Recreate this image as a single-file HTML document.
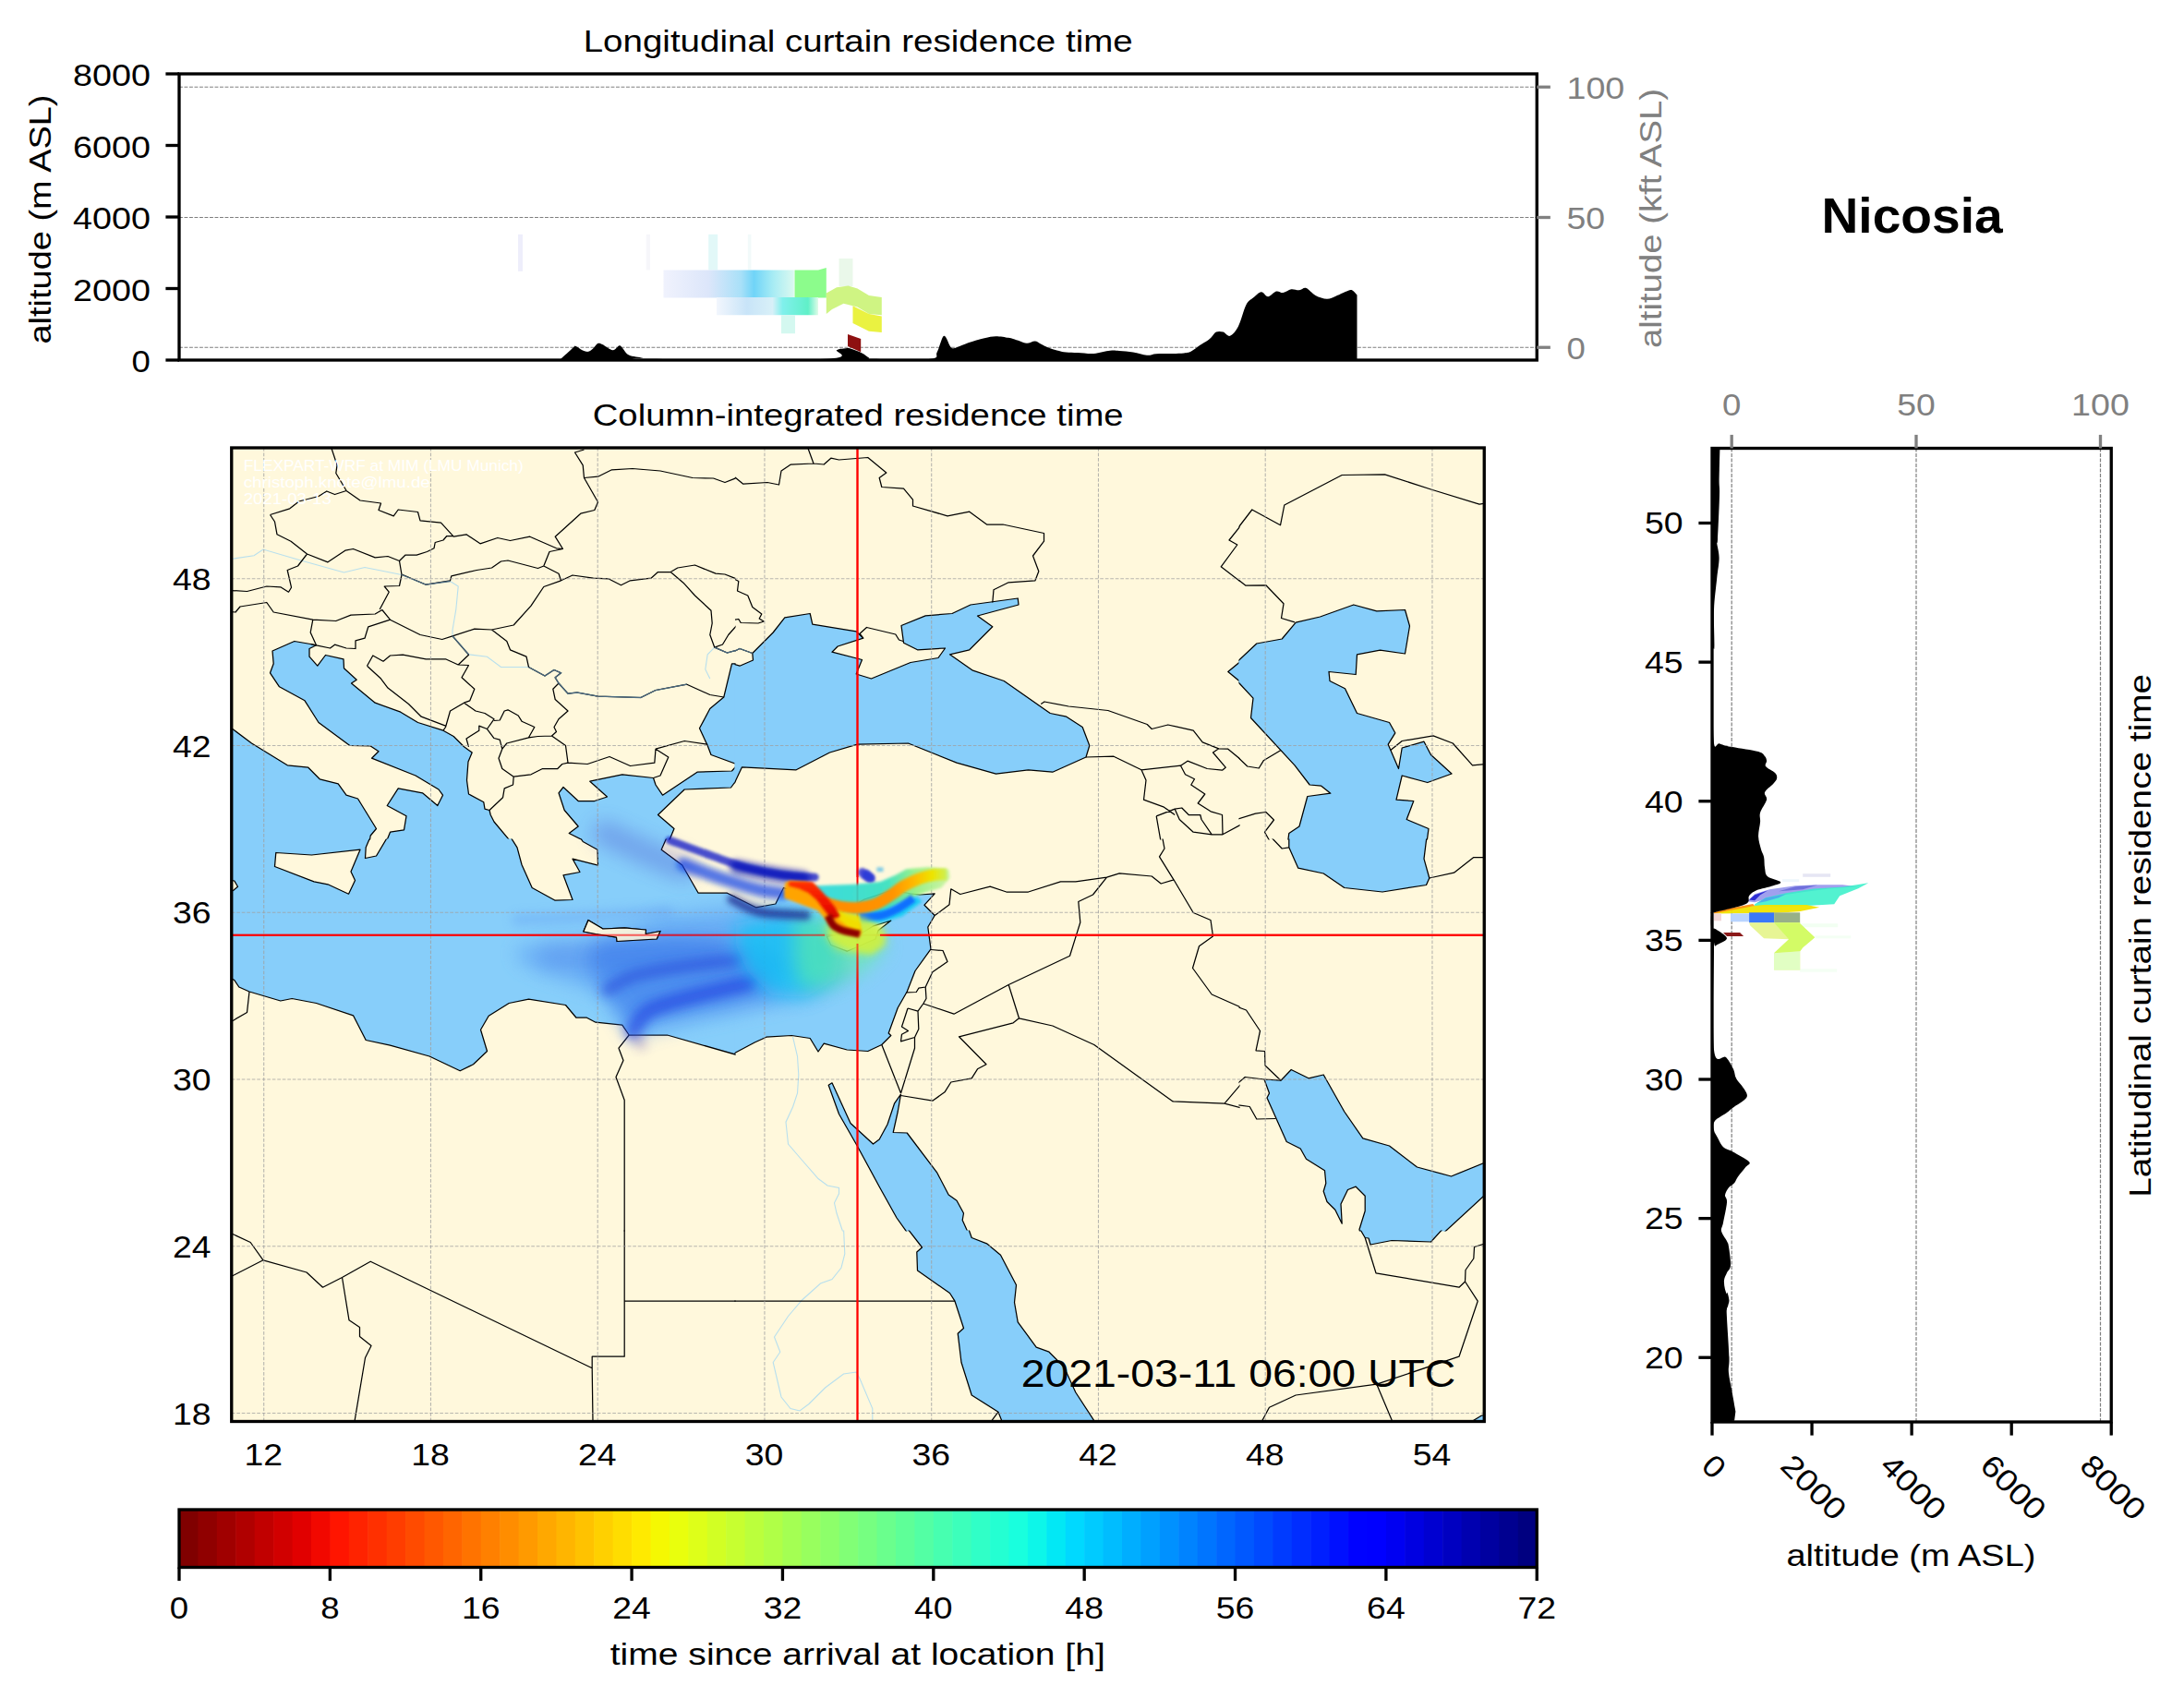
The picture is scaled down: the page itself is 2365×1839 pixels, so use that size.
<!DOCTYPE html><html><head><meta charset="utf-8"><style>html,body{margin:0;padding:0;background:#fff;overflow:hidden}svg{display:block;font-family:"Liberation Sans", sans-serif}</style></head><body><svg width="2365" height="1839" viewBox="0 0 2365 1839"><rect width="2365" height="1839" fill="#fff"/><line x1="194" y1="94.25" x2="1664.25" y2="94.25" stroke="#7f7f7f" stroke-width="1.2" stroke-dasharray="3.9,1.6"/>
<line x1="194" y1="235.5" x2="1664.25" y2="235.5" stroke="#7f7f7f" stroke-width="1.2" stroke-dasharray="3.9,1.6"/>
<line x1="194" y1="376.25" x2="1664.25" y2="376.25" stroke="#7f7f7f" stroke-width="1.2" stroke-dasharray="3.9,1.6"/>
<path d="M561.0,253.8 L566.0,253.8 L566.0,293.8 L561.0,293.8Z" fill="#eeeefb" opacity="1.0"/>
<path d="M699.8,253.8 L704.0,253.8 L704.0,292.5 L699.8,292.5Z" fill="#f6f6fa" opacity="1.0"/>
<path d="M767.2,253.8 L777.2,253.8 L777.2,292.5 L767.2,292.5Z" fill="#e2f8f8" opacity="1.0"/>
<path d="M809.8,253.8 L813.5,253.8 L813.5,292.5 L809.8,292.5Z" fill="#f2fafa" opacity="1.0"/>
<path d="M908.5,280.0 L923.5,280.0 L923.5,310.0 L908.5,310.0Z" fill="#eaf8ea" opacity="1.0"/>
<defs><linearGradient id="tg1" gradientUnits="userSpaceOnUse" x1="718.5" y1="0" x2="858.5" y2="0"><stop offset="0" stop-color="#f0f2fd"/><stop offset="0.35" stop-color="#dce6fa"/><stop offset="0.6" stop-color="#a8e0f8"/><stop offset="0.7" stop-color="#70d4f8"/><stop offset="0.85" stop-color="#a8ecf4"/><stop offset="1" stop-color="#d8f8f0"/></linearGradient><linearGradient id="tg2" gradientUnits="userSpaceOnUse" x1="776.0" y1="0" x2="886.0" y2="0"><stop offset="0" stop-color="#f2f6fd"/><stop offset="0.3" stop-color="#c8e4f8"/><stop offset="0.55" stop-color="#d8f0f8"/><stop offset="0.65" stop-color="#80f0ec"/><stop offset="0.9" stop-color="#60f0c8"/><stop offset="1" stop-color="#e0fce8"/></linearGradient></defs>
<path d="M718.5,292.5 L859.8,292.5 L859.8,322.5 L718.5,322.5Z" fill="url(#tg1)" opacity="1.0"/>
<path d="M860.5,292.5 L886.0,292.5 L894.8,290.0 L894.8,322.5 L860.5,322.5Z" fill="#80fc80" opacity="0.9"/>
<path d="M776.0,322.0 L886.0,322.0 L886.0,341.2 L776.0,341.2Z" fill="url(#tg2)" opacity="1.0"/>
<path d="M846.0,341.2 L861.0,341.2 L861.0,361.2 L846.0,361.2Z" fill="#d4f8f0" opacity="1.0"/>
<path d="M894.8,317.5 L906.0,311.2 L918.5,309.5 L928.5,312.5 L941.0,320.0 L954.8,322.0 L954.8,341.2 L941.0,340.0 L928.5,332.5 L913.5,328.8 L901.0,335.0 L894.8,340.0Z" fill="#bff05a" opacity="0.75"/>
<path d="M923.5,331.2 L941.0,340.0 L954.8,342.5 L954.8,360.0 L941.0,358.8 L923.5,350.0Z" fill="#e6f020" opacity="0.85"/>
<path d="M918.0,362.0 L932.2,367.0 L932.2,381.2 L918.0,375.0Z" fill="#8e1010" opacity="1.0"/>
<path d="M607.2,390.0 L607.2,388.8 C609.5,386.7 618.3,378.5 621.0,376.2 C623.7,374.0 621.8,374.5 623.5,375.0 C625.2,375.5 628.7,378.5 631.0,379.5 C633.3,380.5 635.4,381.1 637.2,380.8 C639.1,380.4 640.6,379.0 642.2,377.5 C643.9,376.0 645.6,372.8 647.2,372.0 C648.9,371.2 649.5,371.8 652.2,373.0 C655.0,374.2 660.5,379.0 663.5,379.2 C666.5,379.5 668.6,375.0 670.2,374.5 C671.9,374.0 671.7,374.6 673.5,376.2 C675.3,377.9 677.2,382.6 681.0,384.5 C684.8,386.4 692.9,386.8 696.0,387.5 C699.1,388.2 666.8,388.5 699.8,388.8 C732.7,389.0 859.1,390.3 893.5,388.8 C927.9,387.2 902.7,381.1 906.0,379.2 C909.3,377.4 911.0,377.8 913.5,377.5 C916.0,377.2 917.7,376.7 921.0,377.5 C924.3,378.3 930.2,380.8 933.5,382.5 C936.8,384.2 938.9,386.5 941.0,387.5 C943.1,388.5 935.0,388.5 946.0,388.8 C957.0,389.0 995.8,390.0 1007.2,388.8 C1018.7,387.5 1012.2,385.4 1014.8,381.2 C1017.2,377.1 1019.8,364.6 1022.2,363.8 C1024.8,362.9 1027.5,374.2 1029.8,376.2 C1032.0,378.3 1032.9,377.1 1036.0,376.2 C1039.1,375.4 1043.5,372.9 1048.5,371.2 C1053.5,369.6 1061.0,367.4 1066.0,366.2 C1071.0,365.1 1074.2,364.3 1078.5,364.2 C1082.8,364.2 1088.9,365.3 1092.0,365.8 C1095.1,366.2 1094.9,366.4 1097.0,367.0 C1099.1,367.6 1102.0,368.7 1104.5,369.5 C1107.0,370.3 1109.3,371.8 1112.0,371.8 C1114.7,371.8 1118.2,369.4 1120.8,369.5 C1123.2,369.6 1124.5,371.3 1127.0,372.5 C1129.5,373.7 1132.8,375.6 1135.8,376.8 C1138.7,377.9 1141.4,378.7 1144.5,379.5 C1147.6,380.3 1150.8,381.1 1154.5,381.5 C1158.2,381.9 1162.0,381.8 1167.0,382.0 C1172.0,382.2 1178.7,383.4 1184.5,383.0 C1190.3,382.6 1197.4,380.2 1202.0,379.8 C1206.6,379.2 1207.8,379.7 1212.0,380.0 C1216.2,380.3 1222.0,380.7 1227.0,381.5 C1232.0,382.3 1237.8,384.5 1242.0,384.8 C1246.2,385.0 1247.8,383.5 1252.0,383.2 C1256.2,383.0 1262.0,383.1 1267.0,383.0 C1272.0,382.9 1278.2,382.9 1282.0,382.5 C1285.8,382.1 1286.6,382.2 1289.5,380.8 C1292.4,379.3 1296.6,375.7 1299.5,373.8 C1302.4,371.8 1304.9,370.7 1307.0,369.2 C1309.1,367.8 1310.3,366.6 1312.0,365.0 C1313.7,363.4 1314.9,360.4 1317.0,359.5 C1319.1,358.6 1322.0,358.8 1324.5,359.5 C1327.0,360.2 1329.3,364.7 1332.0,363.8 C1334.7,362.8 1337.8,359.4 1340.8,353.8 C1343.7,348.1 1346.8,335.2 1349.5,330.0 C1352.2,324.8 1354.3,324.8 1357.0,322.5 C1359.7,320.2 1363.0,316.5 1365.8,316.2 C1368.5,316.0 1370.5,321.4 1373.2,321.2 C1376.0,321.1 1379.3,316.2 1382.0,315.5 C1384.7,314.8 1386.8,317.4 1389.5,317.0 C1392.2,316.6 1395.3,313.7 1398.2,313.2 C1401.2,312.8 1404.3,314.5 1407.0,314.2 C1409.7,314.0 1411.6,311.0 1414.5,312.0 C1417.4,313.0 1420.8,318.0 1424.5,320.0 C1428.2,322.0 1433.2,323.7 1437.0,323.8 C1440.8,323.8 1443.2,322.0 1447.0,320.5 C1450.8,319.0 1456.6,316.0 1459.5,315.0 C1462.4,314.0 1462.8,313.8 1464.5,314.5 C1466.2,315.2 1468.7,318.7 1469.5,319.5 L1469.5,390.0 L607.2,390.0Z" fill="#000"/>
<rect x="194" y="80" width="1470.25" height="310" fill="none" stroke="#000" stroke-width="3.33"/>
<line x1="179.4" y1="390.0" x2="194" y2="390.0" stroke="#000" stroke-width="3.33"/>
<text x="163.00" y="403.00" font-size="33.33" text-anchor="end" fill="#000" textLength="20.36" lengthAdjust="spacingAndGlyphs">0</text>
<line x1="179.4" y1="312.5" x2="194" y2="312.5" stroke="#000" stroke-width="3.33"/>
<text x="163.00" y="325.50" font-size="33.33" text-anchor="end" fill="#000" textLength="83.96" lengthAdjust="spacingAndGlyphs">2000</text>
<line x1="179.4" y1="235.0" x2="194" y2="235.0" stroke="#000" stroke-width="3.33"/>
<text x="163.00" y="248.00" font-size="33.33" text-anchor="end" fill="#000" textLength="83.96" lengthAdjust="spacingAndGlyphs">4000</text>
<line x1="179.4" y1="157.5" x2="194" y2="157.5" stroke="#000" stroke-width="3.33"/>
<text x="163.00" y="170.50" font-size="33.33" text-anchor="end" fill="#000" textLength="83.96" lengthAdjust="spacingAndGlyphs">6000</text>
<line x1="179.4" y1="80.0" x2="194" y2="80.0" stroke="#000" stroke-width="3.33"/>
<text x="163.00" y="93.00" font-size="33.33" text-anchor="end" fill="#000" textLength="83.96" lengthAdjust="spacingAndGlyphs">8000</text>
<line x1="1664.25" y1="94.25" x2="1678.85" y2="94.25" stroke="#808080" stroke-width="3.33"/>
<text x="1696.50" y="107.05" font-size="33.33" text-anchor="start" fill="#808080" textLength="62.76" lengthAdjust="spacingAndGlyphs">100</text>
<line x1="1664.25" y1="235.5" x2="1678.85" y2="235.5" stroke="#808080" stroke-width="3.33"/>
<text x="1696.50" y="248.30" font-size="33.33" text-anchor="start" fill="#808080" textLength="41.56" lengthAdjust="spacingAndGlyphs">50</text>
<line x1="1664.25" y1="376.25" x2="1678.85" y2="376.25" stroke="#808080" stroke-width="3.33"/>
<text x="1696.50" y="389.05" font-size="33.33" text-anchor="start" fill="#808080" textLength="20.36" lengthAdjust="spacingAndGlyphs">0</text>
<text x="55.10" y="237.50" font-size="33.33" text-anchor="middle" fill="#000" textLength="270.00" lengthAdjust="spacingAndGlyphs" transform="rotate(-90 55.10 237.50)">altitude (m ASL)</text>
<text x="1799.00" y="236.50" font-size="33.33" text-anchor="middle" fill="#808080" textLength="281.00" lengthAdjust="spacingAndGlyphs" transform="rotate(-90 1799.00 236.50)">altitude (kft ASL)</text>
<text x="929.20" y="56.40" font-size="33.33" text-anchor="middle" fill="#000" textLength="595.00" lengthAdjust="spacingAndGlyphs">Longitudinal curtain residence time</text>
<defs><clipPath id="mc"><rect x="250.75" y="485.00" width="1356.50" height="1054.50"/></clipPath></defs>
<g clip-path="url(#mc)">
<rect x="250.75" y="485" width="1356.5" height="1054.5" fill="#fff8dc"/>
<defs><clipPath id="tc0"><rect x="249.4" y="484.4" width="547.2" height="425.2"/></clipPath><clipPath id="tc1"><rect x="795.4" y="484.4" width="547.2" height="425.2"/></clipPath><clipPath id="tc2"><rect x="1341.4" y="484.4" width="271.2" height="425.2"/></clipPath><clipPath id="tc3"><rect x="249.4" y="908.4" width="547.2" height="425.2"/></clipPath><clipPath id="tc4"><rect x="795.4" y="908.4" width="547.2" height="425.2"/></clipPath><clipPath id="tc5"><rect x="1341.4" y="908.4" width="271.2" height="425.2"/></clipPath><clipPath id="tc6"><rect x="249.4" y="1332.4" width="547.2" height="213.2"/></clipPath><clipPath id="tc7"><rect x="795.4" y="1332.4" width="547.2" height="213.2"/></clipPath><clipPath id="tc8"><rect x="1341.4" y="1332.4" width="271.2" height="213.2"/></clipPath></defs><g clip-path="url(#tc0)"><path d="M250.0,605.5 275.0,601.8 285.0,595.0 325.0,606.8 372.5,620.0 395.0,614.5 435.0,622.5" fill="none" stroke="#87cefa" stroke-width="1.1" opacity="0.6"/><path d="M487.5,629.5 496.2,635.0 493.8,660.0 490.0,682.5 490.0,688.8" fill="none" stroke="#87cefa" stroke-width="1.1" opacity="0.6"/><path d="M507.5,708.8 527.5,711.2 542.5,722.5 557.5,722.5 572.5,722.5" fill="none" stroke="#87cefa" stroke-width="1.1" opacity="0.6"/><path d="M768.8,735.0 763.8,725.0 766.2,708.8 773.8,701.2" fill="none" stroke="#87cefa" stroke-width="1.1" opacity="0.6"/><path d="M418.0,912.5 422.5,901.2 437.5,898.8 440.0,883.8 419.2,872.5 431.2,853.8 457.5,858.8 473.8,872.5 479.5,861.2 475.0,855.0 450.0,840.0 402.5,821.2 410.0,813.8 401.2,808.0 378.8,807.5 345.0,782.5 330.0,758.8 302.5,743.8 292.5,728.8 296.2,718.8 295.0,705.0 318.8,694.5 336.2,697.5 342.5,698.8 335.0,702.5 335.0,711.2 343.8,721.2 352.5,709.5 372.0,713.8 372.5,723.8 386.2,736.2 380.5,740.0 406.2,761.2 433.8,771.2 452.5,782.5 480.0,791.2 491.2,797.5 502.5,808.8 511.2,815.0 507.0,825.0 505.5,845.0 507.5,860.0 523.8,868.8 525.0,876.2 530.0,877.5 531.2,882.5 535.0,890.0 553.8,912.5Z" fill="#87cefa" stroke="#000" stroke-width="1.25" stroke-linejoin="round"/><path d="M245.0,785.0 252.5,790.0 272.5,805.0 311.2,828.8 333.8,831.2 346.2,843.8 366.2,848.8 375.0,861.2 387.5,865.0 407.5,897.5 401.2,905.0 400.0,912.5 245.0,912.5Z" fill="#87cefa" stroke="#000" stroke-width="1.25" stroke-linejoin="round"/><path d="M605.0,858.8 610.0,852.5 626.2,867.5 643.8,867.5 657.5,863.0 638.8,846.2 673.8,838.8 707.5,842.5 710.0,850.0 717.5,861.2 755.0,836.2 792.5,835.0 798.8,828.0 798.8,843.0 791.5,853.0 741.2,855.0 712.5,882.5 730.0,897.5 723.8,912.5 636.2,912.5 616.2,902.5 626.2,895.0 611.2,877.5Z" fill="#87cefa" stroke="#000" stroke-width="1.25" stroke-linejoin="round"/><path d="M798.8,718.8 792.5,718.8 783.8,755.0 768.8,767.5 757.5,788.8 766.2,807.5 770.0,817.5 798.8,828.0Z" fill="#87cefa" stroke="#000" stroke-width="1.25" stroke-linejoin="round"/><path d="M358.8,485.0 365.0,503.8 363.8,512.5 375.0,531.2 M292.5,557.5 313.8,550.8 323.8,543.0 345.0,537.5 353.8,532.0 362.5,535.5 375.0,531.5 390.0,542.0 412.5,545.0 410.0,552.5 426.2,558.8 431.2,552.0 452.5,554.5 455.0,563.8 477.5,566.2 491.2,581.2 505.0,578.8 520.0,588.8 538.8,582.5 552.5,585.5 573.8,581.2 602.5,593.8 609.5,594.5 M292.5,557.5 297.5,565.0 300.0,578.8 315.0,586.2 332.5,600.0 355.0,608.8 373.8,596.2 382.5,594.5 406.2,603.8 420.0,602.5 432.5,607.5 M491.2,580.5 483.8,580.5 480.0,585.0 471.2,587.5 470.0,593.8 462.5,597.5 451.2,601.2 438.8,601.2 432.5,607.5 435.0,622.5 432.5,634.5 416.2,635.0 421.2,641.2 411.2,660.0 M435.0,622.0 461.2,633.2 487.5,628.8 488.8,623.8 516.2,617.5 532.5,615.0 542.5,608.0 550.0,607.0 582.5,615.5 588.8,613.0 605.0,621.2 607.5,628.8 M588.8,613.0 595.0,597.5 609.5,594.5 601.2,581.2 628.8,556.2 643.8,552.5 647.5,543.8 632.5,517.5 631.2,503.8 622.5,490.0 632.5,487.0 M632.5,517.5 647.5,516.2 662.5,508.8 685.0,507.5 715.0,510.0 750.0,517.5 772.5,518.0 785.0,522.5 798.8,517.0 M607.5,628.8 620.0,623.0 642.5,626.2 658.8,626.8 672.5,633.8 682.5,628.8 705.0,626.2 712.5,619.5 726.2,619.5 733.8,615.0 752.5,612.0 775.0,621.2 785.0,622.0 798.8,627.5 M607.5,628.8 588.8,635.5 575.0,656.2 556.2,677.0 532.5,682.0 513.8,681.2 490.0,688.8 478.8,692.5 455.0,687.5 422.5,671.2 413.8,660.5 M532.5,682.0 548.8,694.5 552.5,703.8 570.0,711.2 572.5,722.5 590.0,732.0 600.0,725.5 607.5,728.8 601.2,733.8 605.0,740.0 615.0,751.2 625.0,750.0 647.5,754.2 693.8,755.5 710.0,747.5 743.8,741.2 768.8,752.5 783.8,755.0 M726.2,619.5 740.0,631.2 752.5,645.0 770.0,661.2 771.2,675.0 768.8,687.5 773.8,701.2 782.5,698.0 788.8,687.5 798.8,676.2 M773.8,701.2 787.5,707.0 798.8,703.8 M605.0,740.0 598.8,746.2 601.2,757.5 615.0,770.0 605.0,778.8 600.0,787.5 602.5,792.5 597.5,797.0 612.5,807.5 615.0,826.2 636.2,827.5 660.0,819.5 682.5,829.5 708.8,826.2 710.0,811.2 723.8,820.0 715.0,840.0 707.5,842.5 M710.0,811.2 741.2,802.5 766.2,806.2 M597.5,797.0 582.5,797.5 572.5,798.8 548.8,805.0 543.8,811.2 540.0,821.2 543.8,832.5 556.2,841.2 575.0,838.8 587.5,832.5 603.8,832.5 608.8,827.5 615.0,826.2 M556.2,841.2 555.5,850.0 546.2,853.8 544.5,863.8 530.0,877.5 M535.0,780.5 541.2,780.0 546.2,770.0 550.0,768.8 561.2,775.0 565.0,781.2 576.2,786.2 578.8,787.5 572.5,798.8 M527.5,789.5 535.0,799.5 541.2,801.2 543.8,811.2 M502.5,761.2 515.0,770.0 525.0,772.5 535.0,778.8 527.5,789.5 518.8,786.2 518.8,791.2 505.0,800.0 507.5,808.8 M397.5,721.2 403.8,710.0 415.0,716.2 422.5,710.0 436.2,709.2 461.2,713.8 482.5,713.8 496.2,720.0 507.5,720.5 500.0,733.8 513.8,746.2 508.8,758.8 502.5,761.2 487.5,770.0 482.5,787.5 480.0,791.2 M397.5,721.2 412.5,735.0 420.0,745.0 442.5,762.5 456.2,776.2 482.5,786.2 M496.2,720.0 507.5,709.2 490.0,688.8 M336.2,697.5 342.5,698.8 336.2,685.0 338.8,671.2 363.8,672.5 380.0,666.2 406.2,665.0 413.8,660.5 M342.5,698.8 357.5,702.0 362.5,698.2 375.0,702.0 385.0,702.5 385.0,693.8 395.0,691.2 398.8,678.8 422.5,671.2 M250.0,662.5 255.0,663.0 260.0,657.0 288.8,652.5 296.2,663.0 338.8,671.2 M250.0,639.5 267.5,640.5 288.8,635.0 303.8,635.8 312.5,641.2 315.5,636.2 311.2,617.5 322.5,613.0 332.5,600.0" fill="none" stroke="#000" stroke-width="1.25" stroke-linejoin="round"/><path d="M435.0,622.5 461.2,633.2 487.5,629.5" fill="none" stroke="#4a6a80" stroke-width="1.3"/><path d="M490.0,688.8 507.5,708.8" fill="none" stroke="#4a6a80" stroke-width="1.3"/><path d="M572.5,722.5 590.0,732.0 600.0,725.5 607.5,728.8 601.2,733.8 605.0,740.0 615.0,751.2 625.0,750.0 647.5,754.2 693.8,755.5 710.0,747.5 743.8,741.2" fill="none" stroke="#4a6a80" stroke-width="1.3"/><path d="M773.8,701.2 787.5,707.0 798.8,703.8" fill="none" stroke="#4a6a80" stroke-width="1.3"/></g>
<g clip-path="url(#tc1)"><path d="M793.0,718.8 801.0,721.2 815.5,715.0 814.8,707.5 837.2,685.0 849.8,668.8 877.2,664.5 879.8,676.2 927.2,683.8 934.8,691.2 907.2,700.0 901.0,706.2 933.5,714.5 927.2,730.0 943.5,735.0 986.0,717.5 1016.0,712.5 1023.5,702.0 993.5,703.8 978.5,696.2 976.0,677.5 1002.2,666.8 1031.0,664.5 1051.0,655.0 1102.2,648.0 1103.0,655.0 1058.5,667.0 1074.8,678.8 1049.8,703.8 1028.5,708.8 1053.5,726.2 1087.2,737.5 1137.2,772.5 1154.8,776.2 1172.2,787.5 1179.8,807.5 1176.0,820.0 1139.8,836.2 1113.5,833.8 1078.5,838.2 1036.0,826.2 983.5,805.0 928.5,806.2 898.5,815.0 862.2,833.8 803.5,830.8 796.0,846.8 791.5,853.0Z" fill="#87cefa" stroke="#000" stroke-width="1.25" stroke-linejoin="round"/><path d="M1345.0,715.0 1329.8,727.5 1345.0,740.0Z" fill="#87cefa" stroke="#000" stroke-width="1.25" stroke-linejoin="round"/><path d="M796.0,517.0 804.8,524.2 831.0,522.5 843.5,525.0 846.0,510.0 856.0,503.2 881.0,502.0 892.2,503.0 899.8,496.2 908.5,498.0 939.8,495.5 959.8,512.0 952.2,517.5 954.8,527.5 978.5,529.2 988.5,541.2 988.5,548.0 1026.0,558.8 1049.8,554.2 1068.5,568.0 1086.0,568.0 1130.5,577.5 1130.5,586.2 1118.5,602.0 1124.8,618.8 1121.0,628.8 1092.2,630.8 1076.0,638.8 1074.8,652.5 M874.8,485.0 881.0,502.0 M796.0,627.5 799.8,629.5 798.5,640.0 809.8,645.0 814.8,657.5 824.8,665.0 822.2,670.0 827.2,673.0 821.0,675.0 802.2,674.5 799.8,670.5 796.0,671.2 M796.0,705.0 801.0,702.5 814.8,707.5 M934.8,691.2 931.0,686.2 938.5,679.5 969.8,687.0 973.5,693.0 978.0,694.5 M1127.2,762.5 1131.0,760.0 1157.2,765.0 1199.8,769.5 1242.2,784.5 1247.2,789.5 1264.8,785.0 1292.2,791.2 1302.2,803.8 1319.8,810.8 1329.8,811.2 1345.0,823.8 M1176.0,820.0 1206.0,819.2 1236.0,833.8 1278.5,829.2 1286.0,824.2 1307.2,832.5 1323.5,834.2 1327.2,831.2 1313.5,815.0 1319.8,810.8 M1236.0,833.8 1241.0,845.0 1238.5,866.2 1259.8,873.8 1272.2,882.5 M1278.5,829.2 1283.5,838.8 1293.5,843.8 1289.8,850.0 1304.8,860.0 1297.2,870.0 1311.0,878.8 1323.5,882.5 1324.0,903.8 1345.0,892.5 M1252.2,883.8 1272.2,876.2 1279.8,875.0 1287.2,882.5 1299.8,882.5 1301.0,887.5 1312.2,903.8 1324.0,903.8 M1272.2,876.2 1277.2,887.5 1292.2,901.2 1312.2,903.8 M1252.2,883.8 1257.2,912.5 M1345.0,567.5 1331.0,585.0 1339.8,590.0 1322.2,613.8 1345.0,631.2" fill="none" stroke="#000" stroke-width="1.25" stroke-linejoin="round"/><path d="M793.0,706.0 796.0,705.0 801.0,702.5 814.8,707.5" fill="none" stroke="#4a6a80" stroke-width="1.3"/></g>
<g clip-path="url(#tc2)"><path d="M1339.0,717.5 1360.8,697.0 1388.2,692.0 1403.2,674.2 1429.5,668.0 1465.8,655.0 1490.8,661.8 1521.5,660.5 1526.5,678.0 1521.5,708.0 1494.5,704.2 1469.5,708.8 1468.2,730.5 1439.0,727.5 1440.0,737.5 1456.5,745.8 1469.5,772.5 1504.5,782.5 1510.8,793.8 1503.2,806.2 1514.5,832.5 1518.2,810.0 1542.0,803.2 1549.5,817.5 1572.0,838.0 1545.8,847.5 1518.2,840.0 1512.0,866.2 1530.8,867.5 1523.2,887.5 1547.0,897.5 1545.0,912.5 1394.5,912.5 1395.8,902.5 1407.0,895.0 1415.8,862.5 1440.8,859.2 1430.8,851.2 1418.2,850.0 1402.0,828.8 1354.5,777.5 1357.0,756.2 1342.0,740.0 1339.0,737.5Z" fill="#87cefa" stroke="#000" stroke-width="1.25" stroke-linejoin="round"/><path d="M1339.0,572.5 1342.0,570.0 1355.8,552.0 1386.5,568.8 1390.8,547.0 1453.2,514.5 1499.5,513.8 1549.5,530.0 1602.0,546.2 1608.2,545.0 M1339.0,627.5 1342.0,628.8 1349.0,634.2 1370.8,633.8 1390.0,653.8 1387.5,669.5 1402.0,673.8 M1339.0,818.8 1350.8,830.0 1363.2,832.0 1368.2,823.8 1387.0,812.5 M1339.0,887.5 1359.5,881.2 1370.8,879.5 1379.5,888.0 1369.5,901.2 1375.8,912.5 M1505.8,812.5 1518.2,802.5 1552.0,796.8 1573.2,805.0 1594.5,828.8 1608.2,827.5" fill="none" stroke="#000" stroke-width="1.25" stroke-linejoin="round"/></g>
<g clip-path="url(#tc3)"><path d="M247.0,906.0 401.2,906.0 396.2,917.8 395.5,929.5 407.5,927.0 420.0,906.0 552.5,906.0 560.0,917.8 565.0,936.5 576.2,961.5 601.2,975.2 620.0,974.5 610.0,947.8 628.0,944.5 620.0,930.2 647.5,937.2 647.0,920.2 631.2,911.5 627.5,906.0 722.5,906.0 716.2,920.2 738.8,937.0 756.2,967.2 787.5,967.2 799.0,972.8 799.0,1142.8 722.5,1121.0 681.2,1121.0 673.8,1110.2 645.0,1107.2 635.0,1102.0 623.8,1102.0 612.5,1088.5 572.5,1082.2 551.2,1086.5 529.2,1100.2 520.5,1115.2 527.5,1138.5 512.5,1152.8 498.2,1159.8 465.0,1144.0 422.5,1132.2 396.2,1126.5 382.5,1099.8 342.5,1086.5 316.2,1081.5 303.8,1084.0 270.0,1074.0 258.8,1069.0 253.8,1061.5 247.0,1057.8Z" fill="#87cefa" stroke="#000" stroke-width="1.25" stroke-linejoin="round"/><path d="M637.0,996.5 653.0,1006.0 676.2,1004.8 699.5,1007.0 699.2,1011.5 715.0,1008.5 711.2,1017.0 668.0,1019.5 667.5,1015.2 645.0,1011.5 631.8,1009.0Z" fill="#fff8dc" stroke="#000" stroke-width="1.25" stroke-linejoin="round"/><path d="M298.8,923.5 337.5,926.0 390.0,920.2 380.0,944.0 384.5,953.5 377.5,968.2 355.0,957.8 340.0,954.8 297.5,938.5Z" fill="#fff8dc" stroke="#000" stroke-width="1.25" stroke-linejoin="round"/><path d="M247.0,952.8 253.8,954.0 257.5,960.2 252.5,964.5 247.0,966.5Z" fill="#fff8dc" stroke="#000" stroke-width="1.25" stroke-linejoin="round"/><path d="M681.2,1121.0 670.0,1135.2 675.0,1148.5 667.0,1166.5 676.2,1191.5 676.2,1336.5 M270.0,1074.0 267.5,1096.5 252.5,1105.2 247.0,1107.8" fill="none" stroke="#000" stroke-width="1.25" stroke-linejoin="round"/></g>
<g clip-path="url(#tc4)"><path d="M858.5,1122.8 863.5,1144.0 864.8,1164.0 863.5,1184.0 858.5,1199.0 851.0,1215.2 853.5,1239.0 868.5,1256.5 886.0,1276.5 896.0,1284.0 908.5,1286.5 908.5,1292.8 903.5,1302.8 906.0,1314.0 913.5,1336.5" fill="none" stroke="#87cefa" stroke-width="1.1" opacity="0.6"/><path d="M793.0,970.2 796.0,971.5 818.5,982.8 839.8,979.0 848.5,961.5 871.0,969.0 887.8,971.8 911.8,988.2 936.0,974.0 966.0,964.0 986.0,967.8 996.0,969.0 1012.2,967.8 1001.0,980.2 1012.2,991.5 1004.8,1004.0 1008.0,1027.8 991.0,1051.5 982.2,1074.0 972.2,1091.5 962.2,1119.0 964.8,1121.5 954.8,1131.5 939.8,1138.5 917.2,1137.0 892.2,1130.2 886.0,1139.0 877.2,1124.5 857.2,1121.5 829.8,1123.2 817.2,1129.0 796.0,1140.2 793.0,1141.5Z" fill="#87cefa" stroke="#000" stroke-width="1.25" stroke-linejoin="round"/><path d="M897.2,1175.2 901.0,1172.8 921.0,1216.5 945.5,1239.0 952.2,1234.0 961.0,1217.8 968.5,1195.2 975.5,1185.2 972.2,1204.0 967.2,1226.5 982.2,1227.0 1014.8,1270.2 1027.2,1294.0 1036.0,1300.2 1043.5,1314.0 1042.2,1321.5 1049.0,1336.5 983.5,1336.5 971.0,1319.0 952.2,1285.2 928.5,1241.5 908.5,1206.5Z" fill="#87cefa" stroke="#000" stroke-width="1.25" stroke-linejoin="round"/><path d="M895.5,1014.5 916.0,1010.2 931.0,1012.0 946.0,1002.8 964.8,997.0 951.0,1007.8 948.0,1017.0 917.2,1030.2 899.8,1023.5Z" fill="#fff8dc" stroke="#000" stroke-width="1.25" stroke-linejoin="round"/><path d="M1012.2,991.5 1028.0,979.8 1029.8,962.8 1039.8,968.5 1072.2,960.2 1089.8,966.0 1113.5,966.0 1148.5,954.8 1164.8,954.8 1198.5,950.2 1212.2,945.8 1247.2,949.0 1257.2,957.0 1271.0,952.8 1292.2,988.5 1311.0,996.5 1313.5,1014.0 1298.5,1024.8 1291.5,1048.5 1312.2,1077.0 1345.0,1091.5 M1271.0,952.8 1255.5,927.8 1261.0,919.0 1258.5,906.0 M1198.5,950.2 1183.5,969.0 1167.8,976.5 1169.8,999.0 1158.5,1035.2 1092.2,1066.5 1103.5,1102.8 M1008.0,1028.5 1021.0,1029.5 1026.0,1041.5 1009.8,1052.8 1002.2,1069.0 1003.0,1081.5 999.8,1087.0 994.0,1095.2 M981.5,1074.8 992.2,1074.5 994.8,1070.2 1002.2,1069.0 M999.8,1087.0 1033.0,1098.2 1092.2,1066.5 M983.0,1092.0 994.0,1095.2 994.8,1114.5 990.5,1123.5 975.5,1127.8 976.5,1120.2 983.5,1116.5 976.5,1112.0 983.0,1092.0 M990.5,1123.5 990.5,1135.2 975.5,1184.0 M954.8,1131.5 975.5,1184.0 M975.5,1186.5 1009.8,1192.2 1023.0,1182.8 1029.8,1172.0 1052.2,1167.8 1058.5,1157.8 1068.0,1152.8 1038.5,1122.8 1097.2,1107.8 1103.5,1102.8 1139.8,1111.0 1184.8,1131.5 1269.8,1192.8 1326.0,1195.2 1345.0,1200.2 M1326.0,1195.2 1345.0,1172.8" fill="none" stroke="#000" stroke-width="1.25" stroke-linejoin="round"/></g>
<g clip-path="url(#tc5)"><path d="M1395.8,906.0 1395.8,917.8 1405.8,940.2 1433.2,946.0 1455.8,961.5 1497.0,966.0 1544.5,958.5 1547.8,951.0 1542.0,930.2 1545.0,906.0Z" fill="#87cefa" stroke="#000" stroke-width="1.25" stroke-linejoin="round"/><path d="M1369.0,1169.0 1387.0,1170.2 1398.2,1158.5 1417.0,1167.8 1433.2,1164.0 1455.8,1204.0 1475.8,1232.8 1504.5,1241.0 1534.5,1264.0 1571.5,1274.0 1608.2,1259.0 1612.0,1257.8 1612.0,1292.8 1608.2,1294.0 1562.0,1336.5 1473.2,1336.5 1472.0,1331.5 1478.2,1311.5 1478.2,1295.2 1468.2,1285.2 1459.5,1288.5 1452.0,1304.0 1453.2,1325.2 1445.8,1310.2 1437.0,1301.5 1433.2,1290.2 1435.8,1281.5 1434.5,1267.8 1414.5,1255.2 1408.2,1244.0 1393.2,1236.5 1372.0,1189.0 1374.5,1184.0Z" fill="#87cefa" stroke="#000" stroke-width="1.25" stroke-linejoin="round"/><path d="M1375.8,906.0 1388.2,919.0 1395.8,917.8 M1547.8,951.0 1574.5,945.2 1595.8,928.5 1612.0,928.5 M1339.0,1090.2 1349.5,1094.0 1364.5,1116.5 1360.0,1137.8 1369.5,1138.5 1370.0,1154.0 1387.0,1170.2 M1339.0,1174.5 1348.2,1166.5 1369.0,1169.0 M1339.0,1196.5 1353.2,1198.5 1360.8,1212.0 1381.5,1211.5" fill="none" stroke="#000" stroke-width="1.25" stroke-linejoin="round"/></g>
<g clip-path="url(#tc6)"><path d="M247.0,1334.2 271.2,1345.5 285.0,1364.8 247.0,1384.2 M285.0,1364.8 332.0,1378.0 349.5,1394.2 370.5,1383.5 401.2,1366.2 641.2,1481.8 M641.2,1481.8 641.2,1469.2 676.2,1469.2 676.2,1330.0 M676.2,1409.2 799.0,1409.2 M370.5,1383.5 378.0,1429.8 389.5,1437.5 389.5,1447.5 402.0,1457.5 395.5,1470.5 383.8,1540.5 M641.2,1481.8 642.0,1540.5" fill="none" stroke="#000" stroke-width="1.25" stroke-linejoin="round"/></g>
<g clip-path="url(#tc7)"><path d="M913.5,1330.0 914.8,1358.0 911.0,1373.0 901.0,1385.5 888.5,1390.0 868.5,1408.0 853.5,1425.5 838.5,1448.0 844.8,1464.2 837.2,1475.5 846.0,1513.0 856.0,1525.5 866.0,1528.0 876.0,1520.5 893.5,1503.0 913.5,1488.0 927.2,1486.0 931.0,1493.0 944.8,1525.5 944.8,1540.5" fill="none" stroke="#87cefa" stroke-width="1.1" opacity="0.6"/><path d="M982.2,1330.0 998.5,1351.0 992.8,1356.0 993.5,1376.0 1028.5,1400.5 1034.0,1409.2 1043.5,1438.5 1037.2,1444.2 1041.0,1475.5 1052.2,1511.0 1081.0,1529.2 1085.5,1540.5 1186.0,1540.5 1164.8,1508.0 1152.2,1480.5 1136.0,1464.2 1122.2,1459.2 1102.2,1431.8 1098.5,1410.5 1100.5,1391.8 1083.5,1359.2 1068.5,1346.8 1052.2,1340.5 1048.5,1330.0Z" fill="#87cefa" stroke="#000" stroke-width="1.25" stroke-linejoin="round"/><path d="M793.0,1409.2 1034.0,1409.2 M1073.5,1539.2 1081.0,1529.2" fill="none" stroke="#000" stroke-width="1.25" stroke-linejoin="round"/></g>
<g clip-path="url(#tc8)"><path d="M1472.0,1330.0 1478.2,1340.5 1482.0,1341.0 1484.0,1348.0 1507.0,1343.5 1549.5,1345.0 1563.2,1330.0Z" fill="#87cefa" stroke="#000" stroke-width="1.25" stroke-linejoin="round"/><path d="M1592.0,1540.5 1604.5,1533.0 1612.0,1532.5 1612.0,1540.5Z" fill="#87cefa" stroke="#000" stroke-width="1.25" stroke-linejoin="round"/><path d="M1478.2,1340.5 1490.0,1378.8 1580.0,1394.2 1586.5,1388.0 1587.0,1375.5 1595.8,1363.0 1596.5,1350.5 1612.0,1345.5 M1586.5,1388.0 1600.2,1409.2 1580.0,1469.2 1490.8,1499.2 1403.2,1511.0 1374.5,1524.2 1365.8,1540.5 M1490.8,1499.2 1508.2,1540.5" fill="none" stroke="#000" stroke-width="1.25" stroke-linejoin="round"/></g>
<line x1="285.70" y1="485" x2="285.70" y2="1539.5" stroke="#a0a0a0" stroke-width="1.1" stroke-dasharray="3.7,1.8" opacity="0.75"/>
<line x1="466.45" y1="485" x2="466.45" y2="1539.5" stroke="#a0a0a0" stroke-width="1.1" stroke-dasharray="3.7,1.8" opacity="0.75"/>
<line x1="647.20" y1="485" x2="647.20" y2="1539.5" stroke="#a0a0a0" stroke-width="1.1" stroke-dasharray="3.7,1.8" opacity="0.75"/>
<line x1="827.95" y1="485" x2="827.95" y2="1539.5" stroke="#a0a0a0" stroke-width="1.1" stroke-dasharray="3.7,1.8" opacity="0.75"/>
<line x1="1008.70" y1="485" x2="1008.70" y2="1539.5" stroke="#a0a0a0" stroke-width="1.1" stroke-dasharray="3.7,1.8" opacity="0.75"/>
<line x1="1189.45" y1="485" x2="1189.45" y2="1539.5" stroke="#a0a0a0" stroke-width="1.1" stroke-dasharray="3.7,1.8" opacity="0.75"/>
<line x1="1370.20" y1="485" x2="1370.20" y2="1539.5" stroke="#a0a0a0" stroke-width="1.1" stroke-dasharray="3.7,1.8" opacity="0.75"/>
<line x1="1550.95" y1="485" x2="1550.95" y2="1539.5" stroke="#a0a0a0" stroke-width="1.1" stroke-dasharray="3.7,1.8" opacity="0.75"/>
<line x1="250.75" y1="1530.50" x2="1607.25" y2="1530.50" stroke="#a0a0a0" stroke-width="1.1" stroke-dasharray="3.7,1.8" opacity="0.75"/>
<line x1="250.75" y1="1349.75" x2="1607.25" y2="1349.75" stroke="#a0a0a0" stroke-width="1.1" stroke-dasharray="3.7,1.8" opacity="0.75"/>
<line x1="250.75" y1="1169.00" x2="1607.25" y2="1169.00" stroke="#a0a0a0" stroke-width="1.1" stroke-dasharray="3.7,1.8" opacity="0.75"/>
<line x1="250.75" y1="988.25" x2="1607.25" y2="988.25" stroke="#a0a0a0" stroke-width="1.1" stroke-dasharray="3.7,1.8" opacity="0.75"/>
<line x1="250.75" y1="807.50" x2="1607.25" y2="807.50" stroke="#a0a0a0" stroke-width="1.1" stroke-dasharray="3.7,1.8" opacity="0.75"/>
<line x1="250.75" y1="626.75" x2="1607.25" y2="626.75" stroke="#a0a0a0" stroke-width="1.1" stroke-dasharray="3.7,1.8" opacity="0.75"/>
<line x1="928.5" y1="485" x2="928.5" y2="1539.5" stroke="#ff0000" stroke-width="2.0"/>
<line x1="250.75" y1="1012.8" x2="1607.25" y2="1012.8" stroke="#ff0000" stroke-width="2.0"/>
<defs><filter id="b2" filterUnits="userSpaceOnUse" x="240" y="470" width="1380" height="1080"><feGaussianBlur stdDeviation="1.5"/></filter><filter id="b3" filterUnits="userSpaceOnUse" x="240" y="470" width="1380" height="1080"><feGaussianBlur stdDeviation="3"/></filter><filter id="b6" filterUnits="userSpaceOnUse" x="240" y="470" width="1380" height="1080"><feGaussianBlur stdDeviation="6"/></filter><filter id="b10" filterUnits="userSpaceOnUse" x="240" y="470" width="1380" height="1080"><feGaussianBlur stdDeviation="10"/></filter></defs>
<path d="M560.0,1025.0 L635.0,1022.5 L722.5,990.0 L810.0,980.0 L860.0,990.0 L905.0,1015.0 L922.5,1052.5 L885.0,1077.5 L835.0,1090.0 L760.0,1105.0 L700.0,1120.0 L685.0,1127.5 L655.0,1077.5 L585.0,1052.5 L560.0,1040.0Z" fill="#4a8af0" opacity="0.42" filter="url(#b10)"/>
<path d="M560.0,996.2 C572.5,995.7 607.9,994.5 635.0,993.0 C662.1,991.5 707.9,988.4 722.5,987.5" fill="none" stroke="#4a80f0" stroke-width="12.5" stroke-linecap="round" stroke-linejoin="round" opacity="0.25" filter="url(#b6)"/>
<path d="M585.0,1020.0 L685.0,1015.0 L785.0,1012.5 L785.0,1045.0 L685.0,1047.5 L585.0,1047.5Z" fill="#4a7ae8" opacity="0.3" filter="url(#b10)"/>
<path d="M647.5,1020.0 L735.0,1015.0 L810.0,1020.0 L847.5,1040.0 L835.0,1077.5 L785.0,1090.0 L710.0,1102.5 L680.0,1110.0 L655.0,1077.5 L635.0,1040.0Z" fill="#2a6ae8" opacity="0.45" filter="url(#b10)"/>
<path d="M657.5,1072.5 C662.1,1070.0 672.1,1061.7 685.0,1057.5 C697.9,1053.3 716.2,1050.4 735.0,1047.5 C753.8,1044.6 787.1,1041.2 797.5,1040.0" fill="none" stroke="#2040d8" stroke-width="12.5" stroke-linecap="round" stroke-linejoin="round" opacity="0.55" filter="url(#b6)"/>
<path d="M685.0,1117.5 C687.9,1113.8 692.1,1101.2 702.5,1095.0 C712.9,1088.8 729.6,1085.0 747.5,1080.0 C765.4,1075.0 799.6,1067.5 810.0,1065.0" fill="none" stroke="#1a3ae0" stroke-width="17.5" stroke-linecap="round" stroke-linejoin="round" opacity="0.6" filter="url(#b6)"/>
<path d="M690.0,1125.0 L695.0,1132.5" fill="none" stroke="#7a5ab0" stroke-width="10.0" stroke-linecap="round" stroke-linejoin="round" opacity="0.35" filter="url(#b6)"/>
<path d="M797.5,1000.0 L847.5,990.0 L885.0,995.0 L910.0,1020.0 L905.0,1060.0 L872.5,1080.0 L835.0,1077.5 L810.0,1052.5 L797.5,1025.0Z" fill="#10c4f4" opacity="0.75" filter="url(#b10)"/>
<path d="M860.0,992.5 L910.0,995.0 L947.5,1005.0 L960.0,1027.5 L935.0,1052.5 L897.5,1070.0 L867.5,1070.0 L860.0,1040.0Z" fill="#60f0a0" opacity="0.6" filter="url(#b10)"/>
<path d="M897.5,995.0 L950.0,1000.0 L960.0,1020.0 L940.0,1032.5 L905.0,1027.5 L895.0,1010.0Z" fill="#c8f040" opacity="0.8" filter="url(#b6)"/>
<path d="M655.0,902.5 C662.1,905.8 683.3,916.2 697.5,922.5 C711.7,928.8 732.9,937.1 740.0,940.0" fill="none" stroke="#3a3ac8" stroke-width="27.5" stroke-linecap="round" stroke-linejoin="round" opacity="0.28" filter="url(#b10)"/>
<path d="M725.0,910.0 C732.9,912.9 758.3,922.5 772.5,927.5 C786.7,932.5 797.5,936.7 810.0,940.0 C822.5,943.3 835.4,945.8 847.5,947.5 C859.6,949.2 876.7,949.6 882.5,950.0" fill="none" stroke="#0a12c8" stroke-width="8.5" stroke-linecap="round" stroke-linejoin="round" opacity="0.75" filter="url(#b2)"/>
<path d="M797.5,938.8 C803.8,940.0 822.9,944.2 835.0,946.2 C847.1,948.3 864.2,950.4 870.0,951.2" fill="none" stroke="#0010b8" stroke-width="15.0" stroke-linecap="round" stroke-linejoin="round" opacity="0.7" filter="url(#b3)"/>
<path d="M740.0,936.2 C747.5,939.0 771.2,947.9 785.0,952.5 C798.8,957.1 812.1,961.2 822.5,963.8 C832.9,966.2 843.3,966.9 847.5,967.5" fill="none" stroke="#0a40e8" stroke-width="13.8" stroke-linecap="round" stroke-linejoin="round" opacity="0.7" filter="url(#b3)"/>
<path d="M792.5,973.8 C797.5,976.0 809.2,984.6 822.5,987.5 C835.8,990.4 864.2,990.6 872.5,991.2" fill="none" stroke="#1a2a90" stroke-width="10.5" stroke-linecap="round" stroke-linejoin="round" opacity="0.75" filter="url(#b3)"/>
<path d="M933.8,945.0 L942.5,951.2" fill="none" stroke="#2a2ad0" stroke-width="10.0" stroke-linecap="round" stroke-linejoin="round" opacity="0.8" filter="url(#b2)"/>
<defs><linearGradient id="gh" gradientUnits="userSpaceOnUse" x1="879.6" y1="0" x2="1027.7" y2="0"><stop offset="0" stop-color="#28d8e0"/><stop offset="0.55" stop-color="#30e0c0"/><stop offset="0.75" stop-color="#90f080"/><stop offset="1" stop-color="#c8f4a0"/></linearGradient><linearGradient id="ge2" gradientUnits="userSpaceOnUse" x1="892.8" y1="0" x2="1026.8" y2="0"><stop offset="0" stop-color="#ff8a00"/><stop offset="0.55" stop-color="#ff9400"/><stop offset="0.72" stop-color="#ffb800"/><stop offset="0.87" stop-color="#eee400"/><stop offset="1" stop-color="#c8f060"/></linearGradient><linearGradient id="gr" gradientUnits="userSpaceOnUse" x1="0" y1="955.8" x2="0" y2="997.3"><stop offset="0" stop-color="#ff3000"/><stop offset="0.6" stop-color="#ee1000"/><stop offset="1" stop-color="#c80000"/></linearGradient></defs>
<path d="M879.6,959.6 L896.6,958.7 L924.9,957.7 L953.2,954.9 L970.2,947.4 L981.5,941.2 L1005.1,938.9 L1027.7,941.7 L1028.6,951.1 L1019.2,961.5 L1000.3,967.2 L981.5,974.7 L967.3,982.3 L953.2,988.9 L929.6,990.7 L906.0,987.0 L889.0,974.7Z" fill="url(#gh)" opacity="0.9" filter="url(#b2)"/>
<path d="M929.6,986.0 L962.6,985.1 L981.5,975.6 L992.8,970.9 L998.5,976.6 L976.8,992.6 L953.2,999.2 L932.4,999.2Z" fill="#10ccf4" opacity="0.85" filter="url(#b2)"/>
<path d="M930.5,992.6 C934.3,992.5 946.3,993.1 953.2,991.7 C960.1,990.3 966.1,987.3 972.1,984.1 C978.0,981.0 986.2,974.7 989.0,972.8" fill="none" stroke="#1068ff" stroke-width="9.0" stroke-linecap="butt" stroke-linejoin="round" opacity="0.9" filter="url(#b2)"/>
<path d="M933.4,943.6 L940.0,942.2 L946.6,948.3 L946.6,954.4 L939.0,954.4 L933.4,950.2Z" fill="#2838d8" opacity="0.85" filter="url(#b2)"/>
<path d="M949.4,939.3 L956.5,939.3 L956.5,944.1 L949.4,944.1Z" fill="#60c0e8" opacity="0.8" filter="url(#b2)"/>
<path d="M901.3,995.5 L932.4,991.7 L948.5,1001.1 L957.9,1010.5 L957.0,1023.8 L943.8,1033.2 L920.2,1028.5 L898.5,1018.1Z" fill="#d0f040" opacity="0.75" filter="url(#b3)"/>
<path d="M892.8,977.5 C895.8,978.3 904.6,981.3 910.7,982.3 C916.9,983.2 923.3,983.7 929.6,983.2 C935.9,982.6 942.7,981.2 948.5,979.0 C954.3,976.7 959.3,972.8 964.5,969.5 C969.7,966.2 974.4,962.1 979.6,959.1 C984.8,956.2 990.6,953.5 995.6,951.6 C1000.7,949.7 1004.8,948.6 1009.8,947.8 C1014.7,947.0 1022.7,947.0 1025.3,946.9" fill="none" stroke="url(#ge2)" stroke-width="12.7" stroke-linecap="butt" stroke-linejoin="round" opacity="1.0" filter="url(#b2)"/>
<path d="M849.0,964.3 L850.4,955.8 L855.1,954.0 L872.1,955.1 L881.5,959.6 L889.0,969.0 L896.6,976.6 L906.0,985.1 L917.3,993.6 L930.5,999.2 L932.9,1010.5 L930.5,1014.3 L917.3,1010.5 L904.1,1004.9 L892.8,994.5 L885.3,986.0 L872.1,981.3 L857.0,975.6 L849.4,972.8Z" fill="#ffa400" opacity="1.0" filter="url(#b2)"/>
<path d="M906.0,986.0 L930.5,991.7 L932.9,1009.6 L917.3,1003.0 L907.9,995.5Z" fill="#f0e400" opacity="0.9" filter="url(#b2)"/>
<path d="M854.1,954.7 L879.6,954.9 L889.0,964.3 L896.6,972.8 L904.1,982.3 L909.8,992.6 L900.4,995.5 L892.8,986.0 L884.3,974.7 L875.8,967.2 L865.5,962.4 L854.1,959.6Z" fill="url(#gr)" opacity="1.0" filter="url(#b2)"/>
<path d="M896.6,991.7 C897.5,993.4 899.6,999.4 902.3,1002.1 C904.9,1004.7 907.8,1006.1 912.6,1007.7 C917.4,1009.3 928.0,1011.0 931.0,1011.7" fill="none" stroke="#8e0000" stroke-width="8.0" stroke-linecap="butt" stroke-linejoin="round" opacity="1.0" filter="url(#b2)"/>
<path d="M637.0,996.5 L653.0,1006.0 L676.2,1004.8 L699.5,1007.0 L699.2,1011.5 L715.0,1008.5 L711.2,1017.0 L668.0,1019.5 L667.5,1015.2 L645.0,1011.5 L631.8,1009.0Z" fill="#fff8dc" fill-opacity="0.8" stroke="#000" stroke-width="1.25" stroke-linejoin="round"/>
<line x1="250.75" y1="1012.8" x2="893" y2="1012.8" stroke="#ff0000" stroke-width="2.0" opacity="0.55"/>
<line x1="953" y1="1012.8" x2="1607.25" y2="1012.8" stroke="#ff0000" stroke-width="2.0" opacity="0.9"/>
<line x1="928.5" y1="485" x2="928.5" y2="950" stroke="#ff0000" stroke-width="2.0" opacity="0.8"/>
<line x1="928.5" y1="1022" x2="928.5" y2="1539.5" stroke="#ff0000" stroke-width="2.0" opacity="0.6"/>
<text x="263.75" y="509.50" font-size="16.67" text-anchor="start" fill="#ffffff" textLength="303.00" lengthAdjust="spacingAndGlyphs">FLEXPART-WRF at MIM (LMU Munich)</text>
<text x="263.75" y="527.50" font-size="16.67" text-anchor="start" fill="#ffffff" textLength="202.00" lengthAdjust="spacingAndGlyphs">christoph.knote@lmu.de</text>
<text x="263.75" y="545.50" font-size="16.67" text-anchor="start" fill="#ffffff" textLength="95.00" lengthAdjust="spacingAndGlyphs">2021-03-13</text>
<text x="1105.75" y="1502.00" font-size="41.67" text-anchor="start" fill="#000" textLength="470.50" lengthAdjust="spacingAndGlyphs">2021-03-11 06:00 UTC</text>
</g>
<rect x="250.75" y="485" width="1356.5" height="1054.5" fill="none" stroke="#000" stroke-width="3.33"/>
<text x="228.50" y="1542.50" font-size="33.33" text-anchor="end" fill="#000" textLength="41.56" lengthAdjust="spacingAndGlyphs">18</text>
<text x="228.50" y="1361.75" font-size="33.33" text-anchor="end" fill="#000" textLength="41.56" lengthAdjust="spacingAndGlyphs">24</text>
<text x="228.50" y="1181.00" font-size="33.33" text-anchor="end" fill="#000" textLength="41.56" lengthAdjust="spacingAndGlyphs">30</text>
<text x="228.50" y="1000.25" font-size="33.33" text-anchor="end" fill="#000" textLength="41.56" lengthAdjust="spacingAndGlyphs">36</text>
<text x="228.50" y="819.50" font-size="33.33" text-anchor="end" fill="#000" textLength="41.56" lengthAdjust="spacingAndGlyphs">42</text>
<text x="228.50" y="638.75" font-size="33.33" text-anchor="end" fill="#000" textLength="41.56" lengthAdjust="spacingAndGlyphs">48</text>
<text x="285.25" y="1586.50" font-size="33.33" text-anchor="middle" fill="#000" textLength="41.56" lengthAdjust="spacingAndGlyphs">12</text>
<text x="466.00" y="1586.50" font-size="33.33" text-anchor="middle" fill="#000" textLength="41.56" lengthAdjust="spacingAndGlyphs">18</text>
<text x="646.75" y="1586.50" font-size="33.33" text-anchor="middle" fill="#000" textLength="41.56" lengthAdjust="spacingAndGlyphs">24</text>
<text x="827.50" y="1586.50" font-size="33.33" text-anchor="middle" fill="#000" textLength="41.56" lengthAdjust="spacingAndGlyphs">30</text>
<text x="1008.25" y="1586.50" font-size="33.33" text-anchor="middle" fill="#000" textLength="41.56" lengthAdjust="spacingAndGlyphs">36</text>
<text x="1189.00" y="1586.50" font-size="33.33" text-anchor="middle" fill="#000" textLength="41.56" lengthAdjust="spacingAndGlyphs">42</text>
<text x="1369.75" y="1586.50" font-size="33.33" text-anchor="middle" fill="#000" textLength="41.56" lengthAdjust="spacingAndGlyphs">48</text>
<text x="1550.50" y="1586.50" font-size="33.33" text-anchor="middle" fill="#000" textLength="41.56" lengthAdjust="spacingAndGlyphs">54</text>
<text x="929.20" y="460.70" font-size="33.33" text-anchor="middle" fill="#000" textLength="575.00" lengthAdjust="spacingAndGlyphs">Column-integrated residence time</text>
<line x1="1875.2" y1="485.5" x2="1875.2" y2="1540" stroke="#7f7f7f" stroke-width="1.2" stroke-dasharray="3.9,1.6"/>
<line x1="2075" y1="485.5" x2="2075" y2="1540" stroke="#7f7f7f" stroke-width="1.2" stroke-dasharray="3.9,1.6"/>
<line x1="2274.5" y1="485.5" x2="2274.5" y2="1540" stroke="#7f7f7f" stroke-width="1.2" stroke-dasharray="3.9,1.6"/>
<path d="M1952.2,946.2 L1982.2,946.2 L1982.2,949.8 L1952.2,949.8Z" fill="#e6e6f4" opacity="1.0"/>
<path d="M1930.1,952.2 L1948.2,952.2 L1948.2,955.2 L1930.1,955.2Z" fill="#eef6fc" opacity="1.0"/>
<path d="M1949.2,1000.3 L1990.2,1000.3 L1990.2,1004.3 L1949.2,1004.3Z" fill="#f2fff2" opacity="1.0"/>
<path d="M1965.2,1013.3 L2004.2,1013.3 L2004.2,1016.3 L1965.2,1016.3Z" fill="#f4fff4" opacity="1.0"/>
<path d="M1949.2,1049.3 L1989.2,1049.3 L1989.2,1052.8 L1949.2,1052.8Z" fill="#f4fff4" opacity="1.0"/>
<path d="M1892.1,976.2 L1900.1,968.2 L1916.1,963.2 L1944.1,959.2 L1968.2,958.2 L1995.2,958.2 L2012.2,960.2 L1980.2,962.6 L1952.2,966.2 L1924.1,970.6 L1900.1,977.2Z" fill="#8080e8" opacity="0.75"/>
<path d="M1894.1,974.6 L1900.1,969.2 L1914.1,964.6 L1906.1,969.2 L1900.1,975.2Z" fill="#2020d0" opacity="0.9"/>
<path d="M1926.1,965.2 L1944.1,960.2 L1968.2,958.6 L1952.2,963.2Z" fill="#5050d0" opacity="0.6"/>
<path d="M1900.1,979.3 L1912.1,972.2 L1934.1,967.2 L1964.2,962.6 L1996.2,960.6 L2023.3,956.2 L2012.2,962.2 L1992.2,970.2 L1986.2,979.3 L1952.2,981.3 L1926.1,982.3 L1900.1,981.3Z" fill="#34f0c8" opacity="0.85"/>
<path d="M1902.1,978.2 L1912.1,972.6 L1934.1,968.2 L1926.1,972.2 L1912.1,976.2Z" fill="#4aa0f0" opacity="0.8"/>
<path d="M1856.0,988.3 L1880.1,982.7 L1910.1,979.9 L1956.2,979.9 L1970.2,982.7 L1948.2,987.3 L1924.1,988.7 L1856.0,989.5Z" fill="#f0e400" opacity="0.95"/>
<path d="M1856.0,987.9 L1870.0,984.3 L1898.1,978.9 L1900.1,980.9 L1872.0,986.3 L1856.0,989.5Z" fill="#ff8a10" opacity="0.9"/>
<path d="M1856.0,989.3 L1864.0,989.3 L1864.0,997.3 L1856.0,997.3Z" fill="#f2d8d8" opacity="1.0"/>
<path d="M1874.0,989.3 L1894.1,989.3 L1894.1,998.3 L1874.0,998.3Z" fill="#b8d4ff" opacity="1.0"/>
<path d="M1894.1,988.3 L1921.1,988.3 L1921.1,999.3 L1894.1,999.3Z" fill="#3a78f8" opacity="1.0"/>
<path d="M1921.1,988.3 L1949.2,988.3 L1949.2,999.3 L1921.1,999.3Z" fill="#98b088" opacity="1.0"/>
<path d="M1894.1,999.3 L1949.2,999.3 L1949.2,1000.3 L1965.2,1015.3 L1952.2,1026.3 L1949.2,1030.3 L1949.2,1050.4 L1921.1,1050.4 L1921.1,1032.3 L1937.1,1017.3 L1910.1,1016.3 L1895.1,1002.3Z" fill="#e4f488" opacity="0.9"/>
<path d="M1921.1,999.3 L1949.2,999.3 L1949.2,1000.3 L1965.2,1015.3 L1952.2,1026.3 L1949.2,1030.3 L1921.1,1032.3 L1937.1,1017.3Z" fill="#d0fc60" opacity="0.9"/>
<path d="M1921.1,1032.3 L1949.2,1030.3 L1949.2,1050.4 L1921.1,1050.4Z" fill="#e0ffc8" opacity="0.9"/>
<path d="M1866.0,1009.9 L1884.1,1009.9 L1888.1,1013.9 L1870.0,1013.9Z" fill="#8b1a1a" opacity="1.0"/>
<path d="M1854.0,487.0 L1862.4,486.0 C1862.3,491.7 1861.7,511.7 1861.6,520.1 C1861.6,528.4 1862.3,525.4 1862.0,536.1 C1861.8,546.8 1860.5,575.5 1860.0,584.1 C1859.6,592.8 1859.0,584.8 1859.2,588.2 C1859.5,591.5 1861.6,597.8 1861.6,604.2 C1861.6,610.5 1860.2,616.9 1859.2,626.2 C1858.3,635.6 1856.5,647.9 1856.0,660.3 C1855.6,672.6 1856.6,692.0 1856.4,700.3 C1856.2,708.7 1855.0,693.6 1854.8,710.3 C1854.7,727.0 1854.4,784.6 1855.6,800.4 C1856.8,816.3 1858.6,804.0 1862.0,805.5 C1865.4,807.0 1876.1,809.5 1876.1,809.5 C1876.1,809.4 1862.0,805.1 1862.0,805.0 C1862.0,804.9 1869.0,807.5 1876.1,809.0 C1883.1,810.5 1898.2,812.4 1904.1,814.0 C1909.9,815.7 1909.6,817.4 1911.1,819.0 C1912.6,820.7 1912.9,822.2 1913.1,824.0 C1913.3,825.9 1910.6,827.9 1912.1,830.0 C1913.6,832.2 1920.1,834.9 1922.1,837.1 C1924.1,839.2 1924.5,841.1 1924.1,843.1 C1923.8,845.1 1922.3,846.6 1920.1,849.1 C1917.9,851.6 1912.3,855.2 1911.1,858.1 C1909.9,860.9 1913.9,862.4 1913.1,866.1 C1912.3,869.8 1907.3,876.1 1906.1,880.1 C1904.9,884.1 1906.4,885.8 1906.1,890.1 C1905.8,894.5 1903.9,901.1 1904.1,906.1 C1904.3,911.2 1906.1,916.5 1907.1,920.2 C1908.1,923.8 1909.4,924.8 1910.1,928.2 C1910.8,931.5 1910.4,936.7 1911.1,940.2 C1911.8,943.7 1911.3,946.7 1914.1,949.2 C1916.9,951.7 1927.1,953.5 1928.1,955.2 C1929.1,956.9 1924.5,957.7 1920.1,959.2 C1915.8,960.7 1906.4,962.4 1902.1,964.2 C1897.7,966.1 1896.1,967.7 1894.1,970.2 C1892.1,972.7 1896.4,976.2 1890.1,979.3 C1883.7,982.3 1862.2,986.6 1856.0,988.3 C1849.9,989.9 1853.7,986.6 1853.2,989.3 C1852.8,991.9 1852.4,1001.4 1853.2,1004.3 C1854.0,1007.1 1855.2,1004.3 1858.0,1006.3 C1860.8,1008.3 1870.0,1013.3 1870.0,1016.3 C1870.0,1019.3 1860.4,1022.0 1858.0,1024.3 C1855.7,1026.7 1856.4,1011.5 1856.0,1030.3 C1855.7,1049.1 1853.9,1117.9 1856.0,1137.0 C1858.2,1156.1 1865.5,1141.5 1869.0,1145.0 C1872.5,1148.5 1875.2,1154.2 1877.1,1158.1 C1878.9,1161.9 1878.1,1164.4 1880.1,1168.1 C1882.1,1171.7 1887.2,1176.6 1889.1,1180.1 C1890.9,1183.6 1893.2,1185.8 1891.1,1189.1 C1888.9,1192.4 1879.6,1197.4 1876.1,1200.1 C1872.5,1202.8 1873.2,1202.8 1870.0,1205.1 C1866.9,1207.5 1859.4,1211.0 1857.0,1214.1 C1854.7,1217.3 1855.5,1221.1 1856.0,1224.1 C1856.5,1227.2 1858.4,1229.2 1860.0,1232.2 C1861.7,1235.2 1863.4,1239.7 1866.0,1242.2 C1868.7,1244.7 1871.4,1244.5 1876.1,1247.2 C1880.7,1249.8 1891.7,1255.4 1894.1,1258.2 C1896.4,1261.0 1892.1,1261.5 1890.1,1264.2 C1888.1,1266.9 1884.1,1271.4 1882.1,1274.2 C1880.1,1277.1 1879.7,1279.2 1878.1,1281.2 C1876.4,1283.2 1873.7,1284.1 1872.0,1286.2 C1870.4,1288.4 1868.4,1291.6 1868.0,1294.2 C1867.7,1296.9 1870.4,1297.2 1870.0,1302.3 C1869.7,1307.3 1867.0,1319.1 1866.0,1324.3 C1865.0,1329.5 1863.4,1330.0 1864.0,1333.3 C1864.7,1336.6 1868.7,1341.5 1870.0,1344.3 C1871.4,1347.2 1871.4,1346.0 1872.0,1350.3 C1872.7,1354.7 1874.4,1365.7 1874.0,1370.4 C1873.7,1375.0 1871.2,1375.7 1870.0,1378.4 C1868.9,1381.0 1867.4,1383.4 1867.0,1386.4 C1866.7,1389.4 1867.2,1392.7 1868.0,1396.4 C1868.9,1400.1 1871.7,1405.1 1872.0,1408.4 C1872.4,1411.7 1870.4,1417.8 1870.0,1416.4 C1869.7,1415.0 1869.6,1401.3 1870.0,1400.0 C1870.4,1398.7 1872.5,1405.8 1872.5,1408.8 C1872.5,1411.7 1870.4,1414.4 1870.0,1417.5 C1869.6,1420.6 1869.6,1418.8 1870.0,1427.5 C1870.4,1436.2 1872.2,1460.2 1872.5,1470.0 C1872.8,1479.8 1871.4,1480.0 1871.9,1486.2 C1872.4,1492.5 1874.4,1500.4 1875.6,1507.5 C1876.9,1514.6 1878.8,1525.2 1879.4,1528.8 L1878.1,1538.8 L1854.0,1540.0Z" fill="#000"/>
<rect x="1854" y="485.5" width="432.25" height="1054.5" fill="none" stroke="#000" stroke-width="3.33"/>
<line x1="1839.4" y1="1470.25" x2="1854" y2="1470.25" stroke="#000" stroke-width="3.33"/>
<text x="1822.50" y="1482.05" font-size="33.33" text-anchor="end" fill="#000" textLength="41.56" lengthAdjust="spacingAndGlyphs">20</text>
<line x1="1839.4" y1="1319.62" x2="1854" y2="1319.62" stroke="#000" stroke-width="3.33"/>
<text x="1822.50" y="1331.42" font-size="33.33" text-anchor="end" fill="#000" textLength="41.56" lengthAdjust="spacingAndGlyphs">25</text>
<line x1="1839.4" y1="1169.00" x2="1854" y2="1169.00" stroke="#000" stroke-width="3.33"/>
<text x="1822.50" y="1180.80" font-size="33.33" text-anchor="end" fill="#000" textLength="41.56" lengthAdjust="spacingAndGlyphs">30</text>
<line x1="1839.4" y1="1018.38" x2="1854" y2="1018.38" stroke="#000" stroke-width="3.33"/>
<text x="1822.50" y="1030.17" font-size="33.33" text-anchor="end" fill="#000" textLength="41.56" lengthAdjust="spacingAndGlyphs">35</text>
<line x1="1839.4" y1="867.75" x2="1854" y2="867.75" stroke="#000" stroke-width="3.33"/>
<text x="1822.50" y="879.55" font-size="33.33" text-anchor="end" fill="#000" textLength="41.56" lengthAdjust="spacingAndGlyphs">40</text>
<line x1="1839.4" y1="717.12" x2="1854" y2="717.12" stroke="#000" stroke-width="3.33"/>
<text x="1822.50" y="728.92" font-size="33.33" text-anchor="end" fill="#000" textLength="41.56" lengthAdjust="spacingAndGlyphs">45</text>
<line x1="1839.4" y1="566.50" x2="1854" y2="566.50" stroke="#000" stroke-width="3.33"/>
<text x="1822.50" y="578.30" font-size="33.33" text-anchor="end" fill="#000" textLength="41.56" lengthAdjust="spacingAndGlyphs">50</text>
<line x1="1875.2" y1="485.5" x2="1875.2" y2="470.9" stroke="#808080" stroke-width="3.33"/>
<text x="1875.20" y="449.50" font-size="33.33" text-anchor="middle" fill="#808080" textLength="20.36" lengthAdjust="spacingAndGlyphs">0</text>
<line x1="2075" y1="485.5" x2="2075" y2="470.9" stroke="#808080" stroke-width="3.33"/>
<text x="2075.00" y="449.50" font-size="33.33" text-anchor="middle" fill="#808080" textLength="41.56" lengthAdjust="spacingAndGlyphs">50</text>
<line x1="2274.5" y1="485.5" x2="2274.5" y2="470.9" stroke="#808080" stroke-width="3.33"/>
<text x="2274.50" y="449.50" font-size="33.33" text-anchor="middle" fill="#808080" textLength="62.76" lengthAdjust="spacingAndGlyphs">100</text>
<line x1="1854.00" y1="1540" x2="1854.00" y2="1554.6" stroke="#000" stroke-width="3.33"/>
<text x="0" y="0" font-size="33.33" text-anchor="middle" dominant-baseline="central" textLength="20.36" lengthAdjust="spacingAndGlyphs" transform="translate(1856.00 1588.29) rotate(45)">0</text>
<line x1="1962.06" y1="1540" x2="1962.06" y2="1554.6" stroke="#000" stroke-width="3.33"/>
<text x="0" y="0" font-size="33.33" text-anchor="middle" dominant-baseline="central" textLength="83.96" lengthAdjust="spacingAndGlyphs" transform="translate(1964.06 1610.78) rotate(45)">2000</text>
<line x1="2070.12" y1="1540" x2="2070.12" y2="1554.6" stroke="#000" stroke-width="3.33"/>
<text x="0" y="0" font-size="33.33" text-anchor="middle" dominant-baseline="central" textLength="83.96" lengthAdjust="spacingAndGlyphs" transform="translate(2072.12 1610.78) rotate(45)">4000</text>
<line x1="2178.19" y1="1540" x2="2178.19" y2="1554.6" stroke="#000" stroke-width="3.33"/>
<text x="0" y="0" font-size="33.33" text-anchor="middle" dominant-baseline="central" textLength="83.96" lengthAdjust="spacingAndGlyphs" transform="translate(2180.19 1610.78) rotate(45)">6000</text>
<line x1="2286.25" y1="1540" x2="2286.25" y2="1554.6" stroke="#000" stroke-width="3.33"/>
<text x="0" y="0" font-size="33.33" text-anchor="middle" dominant-baseline="central" textLength="83.96" lengthAdjust="spacingAndGlyphs" transform="translate(2288.25 1610.78) rotate(45)">8000</text>
<text x="2069.40" y="1696.25" font-size="33.33" text-anchor="middle" fill="#000" textLength="270.00" lengthAdjust="spacingAndGlyphs">altitude (m ASL)</text>
<text x="2328.60" y="1013.35" font-size="33.33" text-anchor="middle" fill="#000" textLength="567.00" lengthAdjust="spacingAndGlyphs" transform="rotate(-90 2328.60 1013.35)">Latitudinal curtain residence time</text>
<rect x="194.00" y="1635" width="21.02" height="62.5" fill="#800000"/>
<rect x="214.42" y="1635" width="21.02" height="62.5" fill="#900000"/>
<rect x="234.84" y="1635" width="21.02" height="62.5" fill="#a00000"/>
<rect x="255.26" y="1635" width="21.02" height="62.5" fill="#b00000"/>
<rect x="275.68" y="1635" width="21.02" height="62.5" fill="#c10000"/>
<rect x="296.10" y="1635" width="21.02" height="62.5" fill="#d10000"/>
<rect x="316.52" y="1635" width="21.02" height="62.5" fill="#e10000"/>
<rect x="336.94" y="1635" width="21.02" height="62.5" fill="#f20800"/>
<rect x="357.36" y="1635" width="21.02" height="62.5" fill="#ff1500"/>
<rect x="377.78" y="1635" width="21.02" height="62.5" fill="#ff2300"/>
<rect x="398.20" y="1635" width="21.02" height="62.5" fill="#ff3000"/>
<rect x="418.62" y="1635" width="21.02" height="62.5" fill="#ff3d00"/>
<rect x="439.04" y="1635" width="21.02" height="62.5" fill="#ff4b00"/>
<rect x="459.46" y="1635" width="21.02" height="62.5" fill="#ff5800"/>
<rect x="479.88" y="1635" width="21.02" height="62.5" fill="#ff6500"/>
<rect x="500.30" y="1635" width="21.02" height="62.5" fill="#ff7300"/>
<rect x="520.72" y="1635" width="21.02" height="62.5" fill="#ff8000"/>
<rect x="541.14" y="1635" width="21.02" height="62.5" fill="#ff8d00"/>
<rect x="561.56" y="1635" width="21.02" height="62.5" fill="#ff9a00"/>
<rect x="581.98" y="1635" width="21.02" height="62.5" fill="#ffa800"/>
<rect x="602.40" y="1635" width="21.02" height="62.5" fill="#ffb500"/>
<rect x="622.82" y="1635" width="21.02" height="62.5" fill="#ffc200"/>
<rect x="643.24" y="1635" width="21.02" height="62.5" fill="#ffd000"/>
<rect x="663.66" y="1635" width="21.02" height="62.5" fill="#ffdd00"/>
<rect x="684.08" y="1635" width="21.02" height="62.5" fill="#ffea00"/>
<rect x="704.50" y="1635" width="21.02" height="62.5" fill="#f5f802"/>
<rect x="724.92" y="1635" width="21.02" height="62.5" fill="#e9ff0d"/>
<rect x="745.34" y="1635" width="21.02" height="62.5" fill="#deff19"/>
<rect x="765.76" y="1635" width="21.02" height="62.5" fill="#d2ff24"/>
<rect x="786.18" y="1635" width="21.02" height="62.5" fill="#c7ff30"/>
<rect x="806.60" y="1635" width="21.02" height="62.5" fill="#bbff3c"/>
<rect x="827.02" y="1635" width="21.02" height="62.5" fill="#b0ff47"/>
<rect x="847.44" y="1635" width="21.02" height="62.5" fill="#a4ff53"/>
<rect x="867.86" y="1635" width="21.02" height="62.5" fill="#98ff5e"/>
<rect x="888.28" y="1635" width="21.02" height="62.5" fill="#8dff6a"/>
<rect x="908.70" y="1635" width="21.02" height="62.5" fill="#81ff76"/>
<rect x="929.12" y="1635" width="21.02" height="62.5" fill="#76ff81"/>
<rect x="949.55" y="1635" width="21.02" height="62.5" fill="#6aff8d"/>
<rect x="969.97" y="1635" width="21.02" height="62.5" fill="#5eff98"/>
<rect x="990.39" y="1635" width="21.02" height="62.5" fill="#53ffa4"/>
<rect x="1010.81" y="1635" width="21.02" height="62.5" fill="#47ffb0"/>
<rect x="1031.23" y="1635" width="21.02" height="62.5" fill="#3cffbb"/>
<rect x="1051.65" y="1635" width="21.02" height="62.5" fill="#30ffc7"/>
<rect x="1072.07" y="1635" width="21.02" height="62.5" fill="#24ffd2"/>
<rect x="1092.49" y="1635" width="21.02" height="62.5" fill="#19ffde"/>
<rect x="1112.91" y="1635" width="21.02" height="62.5" fill="#0df6e9"/>
<rect x="1133.33" y="1635" width="21.02" height="62.5" fill="#02e8f5"/>
<rect x="1153.75" y="1635" width="21.02" height="62.5" fill="#00d9ff"/>
<rect x="1174.17" y="1635" width="21.02" height="62.5" fill="#00cbff"/>
<rect x="1194.59" y="1635" width="21.02" height="62.5" fill="#00bdff"/>
<rect x="1215.01" y="1635" width="21.02" height="62.5" fill="#00aeff"/>
<rect x="1235.43" y="1635" width="21.02" height="62.5" fill="#00a0ff"/>
<rect x="1255.85" y="1635" width="21.02" height="62.5" fill="#0091ff"/>
<rect x="1276.27" y="1635" width="21.02" height="62.5" fill="#0083ff"/>
<rect x="1296.69" y="1635" width="21.02" height="62.5" fill="#0075ff"/>
<rect x="1317.11" y="1635" width="21.02" height="62.5" fill="#0066ff"/>
<rect x="1337.53" y="1635" width="21.02" height="62.5" fill="#0058ff"/>
<rect x="1357.95" y="1635" width="21.02" height="62.5" fill="#004aff"/>
<rect x="1378.37" y="1635" width="21.02" height="62.5" fill="#003bff"/>
<rect x="1398.79" y="1635" width="21.02" height="62.5" fill="#002dff"/>
<rect x="1419.21" y="1635" width="21.02" height="62.5" fill="#001fff"/>
<rect x="1439.63" y="1635" width="21.02" height="62.5" fill="#0010ff"/>
<rect x="1460.05" y="1635" width="21.02" height="62.5" fill="#0002ff"/>
<rect x="1480.47" y="1635" width="21.02" height="62.5" fill="#0000ff"/>
<rect x="1500.89" y="1635" width="21.02" height="62.5" fill="#0000f2"/>
<rect x="1521.31" y="1635" width="21.02" height="62.5" fill="#0000e1"/>
<rect x="1541.73" y="1635" width="21.02" height="62.5" fill="#0000d1"/>
<rect x="1562.15" y="1635" width="21.02" height="62.5" fill="#0000c1"/>
<rect x="1582.57" y="1635" width="21.02" height="62.5" fill="#0000b0"/>
<rect x="1602.99" y="1635" width="21.02" height="62.5" fill="#0000a0"/>
<rect x="1623.41" y="1635" width="21.02" height="62.5" fill="#000090"/>
<rect x="1643.83" y="1635" width="21.02" height="62.5" fill="#000080"/>
<rect x="194" y="1635" width="1470.25" height="62.5" fill="none" stroke="#000" stroke-width="3.33"/>
<line x1="194.00" y1="1697.5" x2="194.00" y2="1712.1" stroke="#000" stroke-width="3.33"/>
<text x="194.00" y="1752.50" font-size="33.33" text-anchor="middle" fill="#000" textLength="20.36" lengthAdjust="spacingAndGlyphs">0</text>
<line x1="357.36" y1="1697.5" x2="357.36" y2="1712.1" stroke="#000" stroke-width="3.33"/>
<text x="357.36" y="1752.50" font-size="33.33" text-anchor="middle" fill="#000" textLength="20.36" lengthAdjust="spacingAndGlyphs">8</text>
<line x1="520.72" y1="1697.5" x2="520.72" y2="1712.1" stroke="#000" stroke-width="3.33"/>
<text x="520.72" y="1752.50" font-size="33.33" text-anchor="middle" fill="#000" textLength="41.56" lengthAdjust="spacingAndGlyphs">16</text>
<line x1="684.08" y1="1697.5" x2="684.08" y2="1712.1" stroke="#000" stroke-width="3.33"/>
<text x="684.08" y="1752.50" font-size="33.33" text-anchor="middle" fill="#000" textLength="41.56" lengthAdjust="spacingAndGlyphs">24</text>
<line x1="847.44" y1="1697.5" x2="847.44" y2="1712.1" stroke="#000" stroke-width="3.33"/>
<text x="847.44" y="1752.50" font-size="33.33" text-anchor="middle" fill="#000" textLength="41.56" lengthAdjust="spacingAndGlyphs">32</text>
<line x1="1010.81" y1="1697.5" x2="1010.81" y2="1712.1" stroke="#000" stroke-width="3.33"/>
<text x="1010.81" y="1752.50" font-size="33.33" text-anchor="middle" fill="#000" textLength="41.56" lengthAdjust="spacingAndGlyphs">40</text>
<line x1="1174.17" y1="1697.5" x2="1174.17" y2="1712.1" stroke="#000" stroke-width="3.33"/>
<text x="1174.17" y="1752.50" font-size="33.33" text-anchor="middle" fill="#000" textLength="41.56" lengthAdjust="spacingAndGlyphs">48</text>
<line x1="1337.53" y1="1697.5" x2="1337.53" y2="1712.1" stroke="#000" stroke-width="3.33"/>
<text x="1337.53" y="1752.50" font-size="33.33" text-anchor="middle" fill="#000" textLength="41.56" lengthAdjust="spacingAndGlyphs">56</text>
<line x1="1500.89" y1="1697.5" x2="1500.89" y2="1712.1" stroke="#000" stroke-width="3.33"/>
<text x="1500.89" y="1752.50" font-size="33.33" text-anchor="middle" fill="#000" textLength="41.56" lengthAdjust="spacingAndGlyphs">64</text>
<line x1="1664.25" y1="1697.5" x2="1664.25" y2="1712.1" stroke="#000" stroke-width="3.33"/>
<text x="1664.25" y="1752.50" font-size="33.33" text-anchor="middle" fill="#000" textLength="41.56" lengthAdjust="spacingAndGlyphs">72</text>
<text x="928.75" y="1802.50" font-size="33.33" text-anchor="middle" fill="#000" textLength="536.00" lengthAdjust="spacingAndGlyphs">time since arrival at location [h]</text>
<text x="2070.60" y="252.00" font-size="53" text-anchor="middle" fill="#000" font-weight="bold" textLength="196.25" lengthAdjust="spacingAndGlyphs">Nicosia</text></svg></body></html>
